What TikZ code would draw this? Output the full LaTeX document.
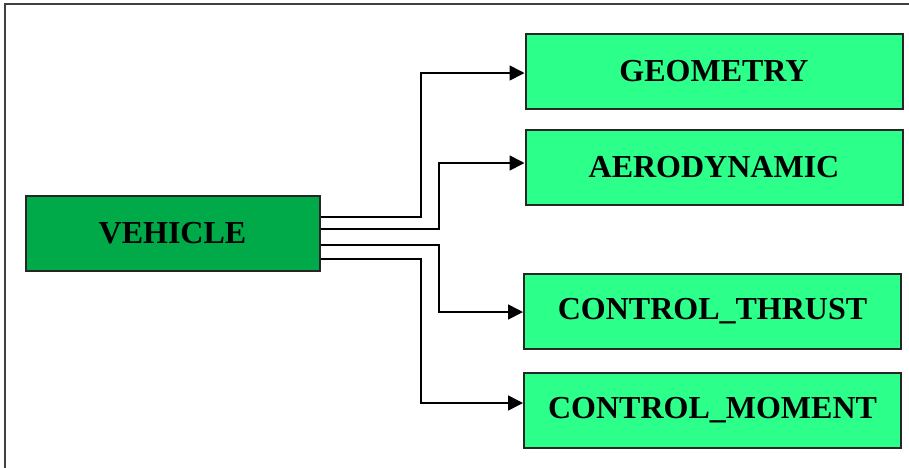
\documentclass[tikz,border=0pt]{standalone}
\usepackage{fontspec}
\setmainfont{Liberation Serif}
\usetikzlibrary{arrows.meta}
\definecolor{darkgreen}{RGB}{0,170,72}
\definecolor{lightgreen}{RGB}{44,255,138}
\definecolor{framecol}{RGB}{64,64,64}
\tikzset{
  box/.style={draw=black!85, line width=2pt, minimum height=75pt, inner sep=0pt,
    font=\fontsize{32}{36}\selectfont\bfseries},
  vbox/.style={box, fill=darkgreen, minimum width=294pt},
  lbox/.style={box, fill=lightgreen, minimum width=377pt},
  conn/.style={draw=black, line width=1.6pt, -{Triangle[length=15pt,width=15pt]}},
}
\begin{document}
\begin{tikzpicture}[x=1pt,y=-1pt]
\useasboundingbox (0,0) rectangle (909,467);
\draw[framecol, line width=2.2pt] (5,470) -- (5,4) -- (915,4);
\node[vbox] (veh) at (172.5,233) {VEHICLE};
\node[lbox] (geo) at (714,71) {GEOMETRY};
\node[lbox] (aero) at (714,167) {AERODYNAMIC};
\node[lbox] (thr) at (712.5,311) {CONTROL\_THRUST};
\node[lbox] (mom) at (712.5,410) {CONTROL\_MOMENT};
\coordinate (b1) at (421,73);
\coordinate (b2) at (439,163);
\coordinate (b3) at (439,312);
\coordinate (b4) at (421,403);
\draw[conn] ([yshift=16pt]veh.east) -| (b1) -- (geo.west |- b1);
\draw[conn] ([yshift=4pt]veh.east) -| (b2) -- (aero.west |- b2);
\draw[conn] ([yshift=-12pt]veh.east) -| (b3) -- (thr.west |- b3);
\draw[conn] ([yshift=-26pt]veh.east) -| (b4) -- (mom.west |- b4);
\end{tikzpicture}
\end{document}
